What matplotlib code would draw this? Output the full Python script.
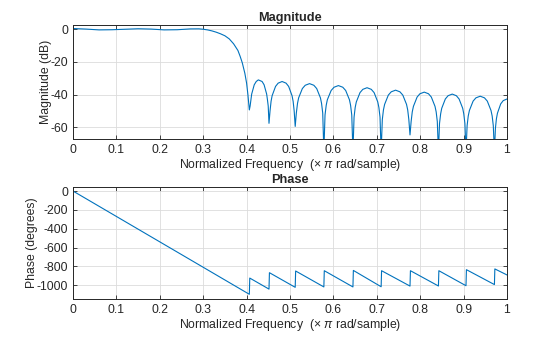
import matplotlib
matplotlib.use('Agg')
import matplotlib.pyplot as plt

# Magnitude response (normalized freq, dB)
# one row per stopband lobe, null first
mag_freq = [
    0.0, 0.03, 0.06, 0.09, 0.12, 0.15, 0.18, 0.21, 0.24, 0.27, 0.29, 0.30,
    0.31, 0.32, 0.33, 0.34, 0.35, 0.36, 0.37, 0.38, 0.385, 0.39, 0.396, 0.400, 0.403,
    0.4063, 0.4081, 0.4099, 0.4117, 0.4176, 0.4222, 0.4270, 0.4357, 0.4403, 0.4462, 0.4480, 0.4498,
    0.4516, 0.4540, 0.4564, 0.4588, 0.4667, 0.4727, 0.4818, 0.4909, 0.4969, 0.5047, 0.5072, 0.5096,
    0.5120, 0.5146, 0.5173, 0.5199, 0.5285, 0.5351, 0.5450, 0.5549, 0.5615, 0.5701, 0.5727, 0.5754,
    0.5780, 0.5807, 0.5834, 0.5860, 0.5948, 0.6015, 0.6115, 0.6216, 0.6283, 0.6370, 0.6396, 0.6423,
    0.6450, 0.6476, 0.6502, 0.6528, 0.6613, 0.6678, 0.6775, 0.6873, 0.6938, 0.7022, 0.7048, 0.7074,
    0.7100, 0.7127, 0.7153, 0.7180, 0.7266, 0.7333, 0.7433, 0.7532, 0.7599, 0.7685, 0.7712, 0.7738,
    0.7765, 0.7791, 0.7817, 0.7844, 0.7929, 0.7994, 0.8093, 0.8191, 0.8256, 0.8341, 0.8368, 0.8394,
    0.8420, 0.8445, 0.8471, 0.8496, 0.8579, 0.8642, 0.8738, 0.8833, 0.8896, 0.8979, 0.9004, 0.9030,
    0.9055, 0.9081, 0.9107, 0.9134, 0.9219, 0.9284, 0.9383, 0.9481, 0.9546, 0.9631, 0.9658, 0.9684,
    0.9710, 0.9733, 0.9756, 0.9780, 0.9855, 0.9913, 1.0,
]
mag_db = [
    0.45, 0.1, -0.4, -0.3, 0.0, 0.3, 0.1, -0.4, -0.3, 0.2, 0.25, 0.0,
    -0.4, -1.0, -1.8, -2.8, -4.0, -5.9, -8.9, -13.0, -16.5, -20.5, -27.0, -33.0, -40.0,
    -49.4, -47.0, -43.1, -39.7, -34.0, -32.0, -31.0, -32.0, -34.0, -39.7, -43.1, -47.0,
    -57.6, -50.0, -44.1, -40.7, -35.0, -33.0, -32.0, -33.0, -35.0, -40.7, -44.1, -50.0,
    -59.5, -51.3, -45.4, -42.0, -36.3, -34.3, -33.3, -34.3, -36.3, -42.0, -45.4, -51.3,
    -75.0, -52.5, -46.6, -43.2, -37.5, -35.5, -34.5, -35.5, -37.5, -43.2, -46.6, -52.5,
    -75.0, -53.8, -47.9, -44.5, -38.8, -36.8, -35.8, -36.8, -38.8, -44.5, -47.9, -53.8,
    -75.0, -55.3, -49.4, -46.0, -40.3, -38.3, -37.3, -38.3, -40.3, -46.0, -49.4, -55.3,
    -64.7, -56.5, -50.6, -47.2, -41.5, -39.5, -38.5, -39.5, -41.5, -47.2, -50.6, -56.5,
    -75.0, -57.7, -51.8, -48.4, -42.7, -40.7, -39.7, -40.7, -42.7, -48.4, -51.8, -57.7,
    -75.0, -59.0, -53.1, -49.7, -44.0, -42.0, -41.0, -42.0, -44.0, -49.7, -53.1, -59.0,
    -75.0, -60.7, -54.8, -51.4, -45.7, -43.7, -42.7,
]

# Phase response (normalized freq, degrees)
phase_freq = [0.0, 0.4063, 0.4073, 0.4516, 0.4526, 0.512, 0.513, 0.578, 0.579,
              0.645, 0.646, 0.710, 0.711, 0.7765, 0.7775, 0.842, 0.843,
              0.9055, 0.9065, 0.971, 0.972, 1.0]
phase_deg = [0, -1095, -923, -1040, -866, -1021, -848, -1017, -845,
             -1017, -842, -1015, -845, -1008, -845, -1007, -845,
             -1004, -834, -992, -826, -890]

xticks = [0, 0.1, 0.2, 0.3, 0.4, 0.5, 0.6, 0.7, 0.8, 0.9, 1]
mag_ticks = [0, -20, -40, -60]
phase_ticks = [0, -200, -400, -600, -800, -1000]

plt.rcParams['font.family'] = ['Liberation Sans', 'DejaVu Sans']
plt.rcParams['axes.unicode_minus'] = False
plt.rcParams['mathtext.fontset'] = 'custom'
plt.rcParams['mathtext.it'] = 'Liberation Sans:italic'
plt.rcParams['mathtext.rm'] = 'Liberation Sans'

line_color = '#0072BD'
dark = '#262626'
fs = 8.8
xlabel = r'Normalized Frequency  ($\times\ \pi$ rad/sample)'

fig = plt.figure(figsize=(5.6, 3.37), dpi=100)
ax1 = fig.add_axes([73 / 560, 1 - 139 / 337, 434 / 560, 114 / 337])
ax2 = fig.add_axes([73 / 560, 1 - 299 / 337, 434 / 560, 112.3 / 337])


def style(ax, yticks):
    ax.set_xlim(0, 1)
    ax.set_xticks(xticks)
    ax.set_xticklabels([f'{t:g}' for t in xticks])
    ax.set_yticks(yticks)
    ax.set_yticklabels([str(t) for t in yticks])
    ax.grid(True, color='#dcdcdc', linewidth=0.6)
    ax.set_axisbelow(True)
    ax.tick_params(direction='in', top=True, right=True, labelsize=fs,
                   colors=dark, length=3, width=0.6)
    for s in ax.spines.values():
        s.set_color(dark)
        s.set_linewidth(0.7)
    ax.set_xlabel(xlabel, fontsize=fs, color=dark, labelpad=1)


ax1.plot(mag_freq, mag_db, color=line_color, linewidth=0.8)
ax1.set_ylim(-67.2, 2.6)
style(ax1, mag_ticks)
ax1.set_ylabel('Magnitude (dB)', fontsize=fs, color=dark, labelpad=-1)
ax1.set_title('Magnitude', fontsize=fs + 0.4, fontweight='bold', color=dark, pad=3)

ax2.plot(phase_freq, phase_deg, color=line_color, linewidth=0.8)
ax2.set_ylim(-1145, 46)
style(ax2, phase_ticks)
ax2.set_ylabel('Phase (degrees)', fontsize=fs, color=dark, labelpad=-1)
ax2.set_title('Phase', fontsize=fs + 0.4, fontweight='bold', color=dark, pad=3)

fig.savefig('out.png', dpi=100)
